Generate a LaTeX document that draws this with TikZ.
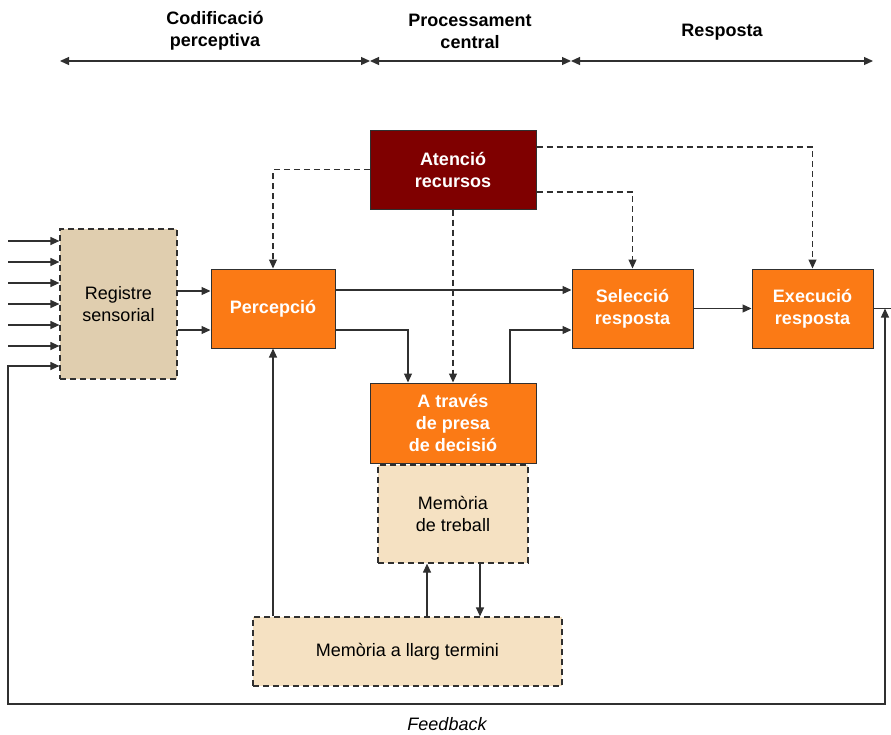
\documentclass[tikz,border=0pt]{standalone}
\usepackage{fontspec}
\setmainfont{Liberation Sans}
\usetikzlibrary{arrows.meta}
\definecolor{lineclr}{HTML}{303030}
\definecolor{orangebox}{HTML}{FB7A15}
\definecolor{darkred}{HTML}{7F0000}
\definecolor{sandbox}{HTML}{E0CEAF}
\definecolor{creambox}{HTML}{F5E1C2}
\begin{document}
\begin{tikzpicture}[x=1pt,y=-1pt,
  txt/.style={font=\fontsize{18}{22}\selectfont, align=center, inner sep=0pt},
  boldtxt/.style={font=\fontsize{18}{22}\selectfont\bfseries, align=center, inner sep=0pt},
  solidbox/.style={boldtxt, text=white, draw=lineclr, line width=1pt, inner sep=0pt},
  dashbox/.style={txt, draw=lineclr, line width=1.2pt, dash pattern=on 6pt off 4pt, inner sep=0pt},
  tip/.tip={Triangle[length=9pt,width=8pt]},
  arr/.style={draw=lineclr, line width=1.2pt, -tip},
  darr/.style={arr, dash pattern=on 6pt off 4pt},
  plain/.style={draw=lineclr, line width=1.2pt}
]
\path[use as bounding box] (0,0) rectangle (891,734);

% stage headings
\node[boldtxt] (hcod) at (215,31) {Codificació\\perceptiva};
\node[boldtxt] (hproc) at (470,31) {Processament\\central};
\node[boldtxt] (hresp) at (722,32) {Resposta};
\coordinate (h0) at (60,61);
\coordinate (h1) at (370,61);
\coordinate (h2) at (571,61);
\coordinate (h3) at (873,61);
\draw[arr, tip-tip] (h0) -- (h1);
\draw[arr, tip-tip] (h1) -- (h2);
\draw[arr, tip-tip] (h2) -- (h3);

% boxes
\node[dashbox, fill=sandbox, minimum width=117pt, minimum height=150pt] (reg) at (118.5,304) {Registre\\sensorial};
\node[solidbox, fill=orangebox, minimum width=124pt, minimum height=79pt] (perc) at (273,308.5) {Percepció};
\node[solidbox, fill=darkred, minimum width=166pt, minimum height=79pt] (aten) at (453,169.5) {Atenció\\recursos};
\node[solidbox, fill=orangebox, minimum width=166pt, minimum height=80pt] (trav) at (453,423) {A través\\de presa\\de decisió};
\node[dashbox, fill=creambox, minimum width=150pt, minimum height=98pt] (mt) at (453,514) {Memòria\\de treball};
\node[solidbox, fill=orangebox, minimum width=121pt, minimum height=79pt] (sel) at (632.5,308.5) {Selecció\\resposta};
\node[solidbox, fill=orangebox, minimum width=121pt, minimum height=79pt] (exe) at (812.5,308.5) {Execució\\resposta};
\node[dashbox, fill=creambox, minimum width=309pt, minimum height=69pt] (mlt) at (407.5,651.5) {Memòria a llarg termini};

% sensory inputs
\foreach \i/\y in {1/241,2/262,3/283,4/304,5/325,6/346}{
  \coordinate (in\i) at (8,\y);
  \draw[arr] (in\i) -- (reg.west |- in\i);
}

% feedback loop
\coordinate (fbR) at (885,704);
\coordinate (fbL) at (8,704);
\coordinate (fbT) at (8,366);
\coordinate (exit) at (891,308.5);
\draw[plain] (exe.east) -- (exit);
\draw[arr, tip-tip] (exe.east -| fbR) -- (fbR) -- (fbL) -- (fbT) -- (reg.west |- fbT);
\node[txt, font=\fontsize{18}{22}\selectfont\itshape] (fbtxt) at (447,724) {Feedback};

% main flow
\draw[arr] (reg.east |- 0,291) -- (perc.west |- 0,291);
\draw[arr] (reg.east |- 0,330) -- (perc.west |- 0,330);
\draw[arr] (perc.east |- 0,290) -- (sel.west |- 0,290);
\draw[arr] (perc.east |- 0,330) -| (trav.north -| 408,0);
\draw[arr] (trav.north -| 510,0) |- (sel.west |- 0,330);
\draw[arr] (sel.east) -- (exe.west);

% attention control
\draw[darr] (aten.west) -| (perc.north);
\draw[darr] (aten.east |- 0,147) -| (exe.north);
\draw[darr] (aten.east |- 0,192) -| (sel.north);
\draw[darr] (aten.south) -- (trav.north);

% memory links
\draw[arr] (mlt.north -| perc.south) -- (perc.south);
\draw[arr] (mlt.north -| 427,0) -- (mt.south -| 427,0);
\draw[arr] (mt.south -| 480,0) -- (mlt.north -| 480,0);
\end{tikzpicture}
\end{document}
